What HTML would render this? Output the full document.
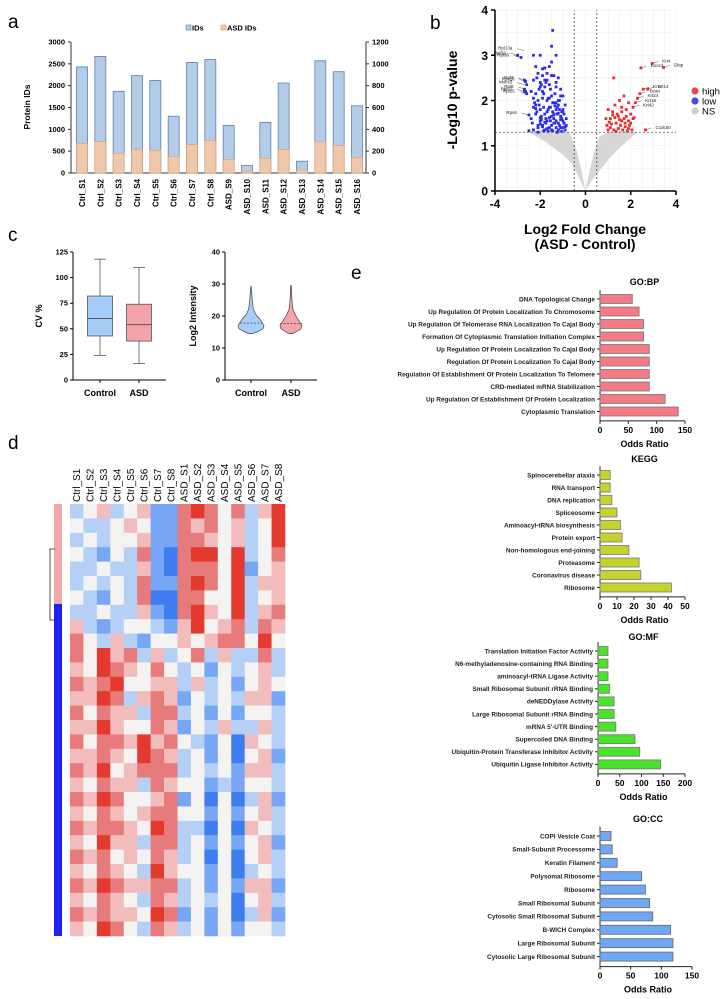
<!DOCTYPE html>
<html><head><meta charset="utf-8">
<style>
body{margin:0;background:#fff;}
svg{display:block;font-family:"Liberation Sans",Arial,sans-serif;}
</style></head>
<body>
<svg id="s" width="724" height="999" viewBox="0 0 724 999" xmlns="http://www.w3.org/2000/svg">
<g font-size="19">
<text x="8" y="28">a</text>
<text x="430" y="29">b</text>
<text x="8" y="241">c</text>
<text x="8" y="449">d</text>
<text x="351" y="279">e</text>
</g>
</svg>
<script>
// ---------- Panel a data ----------
const aCategories=["Ctrl_S1","Ctrl_S2","Ctrl_S3","Ctrl_S4","Ctrl_S5","Ctrl_S6","Ctrl_S7","Ctrl_S8","ASD_S9","ASD_S10","ASD_S11","ASD_S12","ASD_S13","ASD_S14","ASD_S15","ASD_S16"];
const aIDs=[2430,2670,1870,2230,2120,1300,2530,2600,1090,170,1160,2060,270,2570,2320,1540];
const aASD=[272,288,180,216,208,152,260,296,124,16,136,216,28,288,252,144];
const aLeftTicks=[0,500,1000,1500,2000,2500,3000];
const aRightTicks=[0,200,400,600,800,1000,1200];
// ---------- Panel b data ----------
const blueX=[-1.45,-1.5,-1.3,-2.0,-2.3,-1.9,-2.2,-1.6,-1.8,-3.0,-2.85,-2.7,-2.65,-2.6,-2.7,-2.65,-2.6,-2.7,-2.5,-2.1,-1.7,-1.4,-1.2,-2.3,-2.0,-1.8,-1.6,-1.3,-1.1,-2.4,-2.2,-1.9,-1.5,-1.0,-2.1,-1.7,-1.4,-1.2,-0.9,-2.3,-2.0,-1.6,-1.3,-1.0,-2.2,-1.8,-1.5,-1.1,-0.85,-2.4,-2.0,-1.7,-1.4,-1.2,-0.95,-2.1,-1.9,-1.6,-1.3,-1.0,-2.3,-1.8,-1.5,-1.2,-0.9,-2.0,-1.7,-1.4,-1.1,-2.2,-1.9,-1.6,-1.3,-1.0,-2.5,-1.5,-1.8,-2.0,-1.2,-1.4,
-2.15,-1.95,-1.75,-1.55,-1.35,-1.15,-2.05,-1.85,-1.65,-1.45,-1.25,-1.05,-2.25,-2.05,-1.85,-1.65,-1.45,-1.25,-1.05,-0.95,-2.15,-1.95,-1.75,-1.55,-1.35,-1.15,-2.35,-2.1,-1.9,-1.7,-1.5,-1.3,-1.1,-0.9,-2.0,-1.8,-1.6,-1.4,-1.2,-1.0,-2.2,-1.95,-1.75,-1.55,-1.35,-1.15,-0.95,-2.1,-1.85,-1.65,-1.45,-1.25,-1.05,-0.85,-2.3,-1.9,-1.7,-1.5,-1.3,-1.1];
const blueY=[3.55,3.2,3.0,3.0,3.0,2.7,2.75,2.75,2.72,3.0,2.95,2.45,2.42,2.35,2.25,2.2,2.15,2.2,1.68,2.6,2.6,2.55,2.5,2.45,2.4,2.45,2.35,2.3,2.25,2.2,2.15,2.2,2.1,2.1,2.0,2.0,1.95,1.9,1.9,1.85,1.8,1.85,1.8,1.75,1.7,1.7,1.65,1.65,1.6,1.6,1.55,1.55,1.5,1.5,1.5,1.45,1.45,1.4,1.4,1.4,1.35,1.35,1.35,1.35,1.35,1.62,1.75,1.7,1.58,1.9,2.05,2.05,1.95,1.8,1.33,2.85,2.3,2.3,2.0,1.6,
2.5,2.35,2.4,2.25,2.15,2.0,2.25,2.15,2.05,1.95,1.85,1.75,1.95,1.9,1.85,1.8,1.75,1.7,1.6,1.5,1.75,1.65,1.6,1.55,1.5,1.45,1.5,1.4,1.42,1.38,1.45,1.55,1.4,1.42,1.48,1.52,1.62,1.68,1.72,1.55,1.82,1.58,1.5,1.85,1.88,1.8,1.7,1.3,1.33,1.32,1.33,1.3,1.32,1.45,2.05,2.55,2.45,2.55,2.4,2.1];
const redX=[2.95,3.45,2.45,1.25,2.55,2.75,2.4,2.3,2.2,2.1,2.65,1.7,1.5,1.9,1.0,1.2,1.4,1.6,1.8,2.0,1.1,1.3,1.5,1.7,1.9,2.1,0.95,1.15,1.35,1.55,1.75,1.95,1.0,1.25,1.45,1.65,1.85,2.05,1.3,1.6,1.8,2.0,0.9,1.1,1.05,1.45,1.75,2.15,1.35,1.9,1.2,1.6];
const redY=[2.82,2.73,2.72,2.5,2.25,2.25,2.15,2.05,1.95,1.85,1.35,2.1,2.0,1.95,1.8,1.75,1.7,1.75,1.8,1.7,1.6,1.62,1.58,1.6,1.55,1.6,1.45,1.48,1.5,1.45,1.5,1.45,1.35,1.35,1.38,1.35,1.33,1.35,1.9,1.85,1.65,1.5,1.6,1.4,1.52,1.65,1.42,1.62,1.32,1.38,1.68,1.55];
const grayLeftX=[0,-0.3,-0.6,-1.0,-1.4,-1.8,-2.5,-1.9,-1.4,-0.7,-0.4,-0.15,0];
const grayLeftY=[0,0.3,0.6,0.8,0.95,1.1,1.3,1.35,1.35,1.3,0.9,0.4,0];
const grayRightX=[0,0.3,0.7,1.1,1.6,2.3,1.7,1.0,0.6,0.35,0.12,0];
const grayRightY=[0,0.25,0.5,0.75,1.0,1.3,1.32,1.3,1.2,0.8,0.3,0];
const bXTicks=[-4,-2,0,2,4];
const bYTicks=[0,1,2,3,4];
const geneLabels=["Rpl13a","Rpl32","Rpl36","Rpl3","Rps26","Mocs3","Rpl8","Rpl15","Rpl31","Rps6","Krt4","Gfap","Exoc3","Krt1","Krt14","Bcan","Krt24","Krt16","Krt42","Ccdc50"];
const geneX=[-2.7,-3.0,-2.85,-2.65,-2.6,-2.7,-2.65,-2.6,-2.7,-2.5,2.95,3.45,2.45,2.55,2.75,2.4,2.3,2.2,2.1,2.65];
const geneY=[3.1,3.0,2.95,2.45,2.42,2.35,2.25,2.15,2.2,1.68,2.82,2.73,2.72,2.25,2.25,2.15,2.05,1.95,1.85,1.35];
// ---------- Panel c data ----------
const boxGroups=["Control","ASD"];
const boxMin=[24,16],boxQ1=[43,38],boxMed=[60,54],boxQ3=[82,74],boxMax=[118,110];
const cvTicks=[0,25,50,75,100,125];
const violinY=[14.5,15,16,17,18,19,20,21,22,24,26,28,29.5];
const violinCtrl=[1.5,6,12,13,11,9,6,4,2.5,1.5,1,0.6,0];
const violinASD=[1.5,5,10,11,9,7,5,3.5,2,1.2,0.8,0.6,0.3];
const violinMed=[17.8,17.6];
const intTicks=[0,10,20,30,40];
// ---------- Panel d data ----------
const hmCols=["Ctrl_S1","Ctrl_S2","Ctrl_S3","Ctrl_S4","Ctrl_S5","Ctrl_S6","Ctrl_S7","Ctrl_S8","ASD_S1","ASD_S2","ASD_S3","ASD_S4","ASD_S5","ASD_S6","ASD_S7","ASD_S8"];
const hmRows=["2342341156535246","3223431154534236","2323341155434236","3213251056636235","2232241055536134","2323251156536244","3213250055336234","2232241056436245","4212332146345254","5324213343455363","5364524235242252","4365435323132342","5456334424231343","4465245413232441","5354425523131332","4464335413242242","5355464532130432","4454365423130341","5463455523231442","4354425433121332","5465334513030241","4354345533131342","5455436522030432","4364425523131341","5453435423030342","4354326433130232","5465445523131441","4354325423230342","5454436513130241","4365325423131332"];
// ---------- Panel e data ----------
const bpLabels=["DNA Topological Change","Up Regulation Of Protein Localization To Chromosome","Up Regulation Of Telomerase RNA Localization To Cajal Body","Formation Of Cytoplasmic Translation Initiation Complex","Up Regulation Of Protein Localization To Cajal Body","Regulation Of Protein Localization To Cajal Body","Regulation Of Establishment Of Protein Localization To Telomere","CRD-mediated mRNA Stabilization","Up Regulation Of Establishment Of Protein Localization","Cytoplasmic Translation"];
const bpValues=[57,69,77,77,87,87,87,87,115,138];
const bpTicks=[0,50,100,150];
const keggLabels=["Spinocerebellar ataxia","RNA transport","DNA replication","Spliceosome","Aminoacyl-tRNA biosynthesis","Protein export","Non-homologous end-joining","Proteasome","Coronavirus disease","Ribosome"];
const keggValues=[6,6,7,10,12,13,17,23,24,42];
const keggTicks=[0,10,20,30,40,50];
const mfLabels=["Translation Initiation Factor Activity","N6-methyladenosine-containing RNA Binding","aminoacyl-tRNA Ligase Activity","Small Ribosomal Subunit rRNA Binding","deNEDDylase Activity","Large Ribosomal Subunit rRNA Binding","mRNA 5'-UTR Binding","Supercoiled DNA Binding","Ubiquitin-Protein Transferase Inhibitor Activity","Ubiquitin Ligase Inhibitor Activity"];
const mfValues=[23,23,23,27,37,37,41,85,96,144];
const mfTicks=[0,50,100,150,200];
const ccLabels=["COPI Vesicle Coat","Small-Subunit Processome","Keratin Filament","Polysomal Ribosome","Ribosome","Small Ribosomal Subunit","Cytosolic Small Ribosomal Subunit","B-WICH Complex","Large Ribosomal Subunit","Cytosolic Large Ribosomal Subunit"];
const ccValues=[18,20,28,68,74,81,86,115,119,119];
const ccTicks=[0,50,100,150];

const NS="http://www.w3.org/2000/svg";
const svg=document.getElementById('s');
function mk(tag,attrs,parent,txt){const e=document.createElementNS(NS,tag);for(const k in attrs)e.setAttribute(k,attrs[k]);if(txt!==undefined)e.textContent=txt;(parent||svg).appendChild(e);return e;}
function grp(name){const g=mk('g',{});


return g;}

// ===== Panel a =====
(function(){
const g=grp('panel-a-bar-chart');
const x0=71,x1=366,yb=173,yt=42;
const yL=v=>yb-(v/3000)*(yb-yt);
const yR=v=>yb-(v/1200)*(yb-yt);
const step=(357-82)/15;const xc=i=>82+i*step;const bw=11;
mk('line',{x1:x0,y1:yt,x2:x0,y2:yb,stroke:'#333','stroke-width':1},g);
mk('line',{x1:x1,y1:yt,x2:x1,y2:yb,stroke:'#333','stroke-width':1},g);
mk('line',{x1:x0,y1:yb,x2:x1,y2:yb,stroke:'#333','stroke-width':1},g);
aLeftTicks.forEach(t=>{mk('line',{x1:x0-3,y1:yL(t),x2:x0,y2:yL(t),stroke:'#333'},g);
const tx=mk('text',{x:x0-6,y:yL(t)+2.5,'font-size':7.5,'font-weight':'bold','text-anchor':'end'},g,String(t));

});
aRightTicks.forEach(t=>{mk('line',{x1:x1,y1:yR(t),x2:x1+3,y2:yR(t),stroke:'#333'},g);
const tx=mk('text',{x:x1+6,y:yR(t)+2.5,'font-size':7.5,'font-weight':'bold'},g,String(t));

});
aCategories.forEach((c,i)=>{
const b=mk('rect',{x:xc(i)-bw/2,y:yL(aIDs[i]),width:bw,height:yb-yL(aIDs[i]),fill:'#b3cde9',stroke:'#5f7fa8','stroke-width':0.8},g);


const o=mk('rect',{x:xc(i)-bw/2,y:yR(aASD[i]),width:bw,height:yb-yR(aASD[i]),fill:'#efc7ab',stroke:'#e39a6b','stroke-width':0.6},g);


const t=mk('text',{x:xc(i)+3,y:179,'font-size':8,'font-weight':'bold','text-anchor':'end',transform:`rotate(-90 ${xc(i)+3} 179)`},g,c);


});
const yt2=mk('text',{x:30,y:107,'font-size':8.5,'font-weight':'bold','text-anchor':'middle',transform:'rotate(-90 30 107)'},g,'Protein IDs');


const l1=mk('rect',{x:186,y:25,width:5,height:5,fill:'#b3cde9',stroke:'#5f7fa8','stroke-width':0.6},g);


const lt1=mk('text',{x:192,y:30.5,'font-size':7.5,'font-weight':'bold'},g,'IDs');


const l2=mk('rect',{x:221,y:25,width:5,height:5,fill:'#efc7ab',stroke:'#e39a6b','stroke-width':0.6},g);


const lt2=mk('text',{x:227,y:30.5,'font-size':7.5,'font-weight':'bold'},g,'ASD IDs');


})();

// ===== Panel b =====
(function(){
const g=grp('panel-b-volcano-plot');
const X=v=>495+(v+4)*(676-495)/8, Y=v=>191-v*(191-10)/4;
for(let v=-4;v<=4;v+=0.5){mk('line',{x1:X(v),y1:Y(0),x2:X(v),y2:Y(4),stroke:'#ececec','stroke-width':0.6},g);}
for(let v=0;v<=4;v+=0.5){mk('line',{x1:X(-4),y1:Y(v),x2:X(4),y2:Y(v),stroke:'#ececec','stroke-width':0.6},g);}
const pl=(xs,ys)=>xs.map((x,i)=>X(x)+','+Y(ys[i])).join(' ');
const gl=mk('polygon',{points:pl(grayLeftX,grayLeftY),fill:'#d6d6d6'},g);


const gr=mk('polygon',{points:pl(grayRightX,grayRightY),fill:'#d6d6d6'},g);


blueX.forEach((x,i)=>{const c=mk('rect',{x:X(x)-1.4,y:Y(blueY[i])-1.4,width:2.8,height:2.8,fill:'#2a2af0'},g);

});
redX.forEach((x,i)=>{const c=mk('rect',{x:X(x)-1.4,y:Y(redY[i])-1.4,width:2.8,height:2.8,fill:'#f02a2a'},g);

});
[-0.5,0.5].forEach(v=>mk('line',{x1:X(v),y1:Y(0),x2:X(v),y2:Y(4),stroke:'#333','stroke-width':0.7,'stroke-dasharray':'2,2'},g));
mk('line',{x1:X(-4),y1:Y(1.3),x2:X(4),y2:Y(1.3),stroke:'#333','stroke-width':0.7,'stroke-dasharray':'2,2'},g);
mk('line',{x1:X(-4),y1:Y(0),x2:X(-4),y2:Y(4),stroke:'#000','stroke-width':1.5},g);
mk('line',{x1:X(-4),y1:Y(0),x2:X(4),y2:Y(0),stroke:'#000','stroke-width':1.5},g);
bXTicks.forEach(t=>{mk('line',{x1:X(t),y1:Y(0),x2:X(t),y2:Y(0)+4,stroke:'#000','stroke-width':1.5},g);
const tx=mk('text',{x:X(t),y:Y(0)+17,'font-size':12,'font-weight':'bold','text-anchor':'middle'},g,String(t));

});
bYTicks.forEach(t=>{mk('line',{x1:X(-4)-4,y1:Y(t),x2:X(-4),y2:Y(t),stroke:'#000','stroke-width':1.5},g);
const tx=mk('text',{x:X(-4)-7,y:Y(t)+4.5,'font-size':12,'font-weight':'bold','text-anchor':'end'},g,String(t));

});
geneLabels.forEach((n,i)=>{const left=geneX[i]<0;const px=X(geneX[i]),py=Y(geneY[i]);
const off=left?-12:10;
mk('line',{x1:px,y1:py,x2:px+off*0.6,y2:py-2,stroke:'#333','stroke-width':0.4},g);
const t=mk('text',{x:px+off,y:py-1,'font-size':4.5,'text-anchor':left?'end':'start',fill:'#222'},g,n);

});
const yt=mk('text',{x:457,y:100,'font-size':14,'font-weight':'bold','text-anchor':'middle',transform:'rotate(-90 457 100)'},g,'-Log10 p-value');


const xt=mk('text',{x:585,y:234,'font-size':14,'font-weight':'bold','text-anchor':'middle'},g,'Log2 Fold Change');


const xt2=mk('text',{x:585,y:249,'font-size':14,'font-weight':'bold','text-anchor':'middle'},g,'(ASD - Control)');


[['high','#e84848',91],['low','#4848f0',101],['NS','#cccccc',111]].forEach(([n,c,y])=>{
const d=mk('circle',{cx:695,cy:y,r:3.6,fill:c},g);


const t=mk('text',{x:702,y:y+3.5,'font-size':9.5},g,n);

});
})();

// ===== Panel c =====
(function(){
const g=grp('panel-c-cv-boxplot');
const Y=v=>380-v*(380-252)/125;const ax=73,xr=166;const xc=[100,139];const fills=['#a6cdf7','#f4a3a8'];
mk('line',{x1:ax,y1:252,x2:ax,y2:380,stroke:'#000','stroke-width':1},g);
mk('line',{x1:ax,y1:380,x2:xr,y2:380,stroke:'#000','stroke-width':1},g);
cvTicks.forEach(t=>{mk('line',{x1:ax-3,y1:Y(t),x2:ax,y2:Y(t),stroke:'#000'},g);
const tx=mk('text',{x:ax-5,y:Y(t)+2.5,'font-size':7.5,'font-weight':'bold','text-anchor':'end'},g,String(t));

});
boxGroups.forEach((n,i)=>{const x=xc[i];
mk('line',{x1:x,y1:Y(boxMin[i]),x2:x,y2:Y(boxMax[i]),stroke:'#555','stroke-width':0.8},g);
mk('line',{x1:x-6,y1:Y(boxMin[i]),x2:x+6,y2:Y(boxMin[i]),stroke:'#555','stroke-width':0.8},g);
mk('line',{x1:x-6,y1:Y(boxMax[i]),x2:x+6,y2:Y(boxMax[i]),stroke:'#555','stroke-width':0.8},g);
const r=mk('rect',{x:x-12.5,y:Y(boxQ3[i]),width:25,height:Y(boxQ1[i])-Y(boxQ3[i]),fill:fills[i],stroke:'#555','stroke-width':0.8},g);


mk('line',{x1:x-12.5,y1:Y(boxMed[i]),x2:x+12.5,y2:Y(boxMed[i]),stroke:'#444','stroke-width':0.9},g);
mk('line',{x1:x,y1:380,x2:x,y2:383,stroke:'#000'},g);
const t=mk('text',{x:x,y:396,'font-size':9,'font-weight':'bold','text-anchor':'middle'},g,n);

});
const yt=mk('text',{x:42,y:316,'font-size':9,'font-weight':'bold','text-anchor':'middle',transform:'rotate(-90 42 316)'},g,'CV %');



const g2=grp('panel-c-intensity-violin');
const V=v=>380-v*(380-252)/40;const ax2=225,xr2=317;const vc=[251,291];const vf=['#a6cdf7','#f4a3a8'];
mk('line',{x1:ax2,y1:252,x2:ax2,y2:380,stroke:'#000'},g2);
mk('line',{x1:ax2,y1:380,x2:xr2,y2:380,stroke:'#000'},g2);
intTicks.forEach(t=>{mk('line',{x1:ax2-3,y1:V(t),x2:ax2,y2:V(t),stroke:'#000'},g2);
const tx=mk('text',{x:ax2-5,y:V(t)+2.5,'font-size':7.5,'font-weight':'bold','text-anchor':'end'},g2,String(t));

});
[violinCtrl,violinASD].forEach((w,i)=>{const c=vc[i];
let d='M'+(c+w[0])+','+V(violinY[0]);
violinY.forEach((y,j)=>d+=' L'+(c+w[j])+','+V(y));
for(let j=violinY.length-1;j>=0;j--)d+=' L'+(c-w[j])+','+V(violinY[j]);
d+='Z';
const p=mk('path',{d:d,fill:vf[i],stroke:'#444','stroke-width':0.7},g2);


mk('line',{x1:c-11,y1:V(violinMed[i]),x2:c+11,y2:V(violinMed[i]),stroke:'#333','stroke-width':0.7,'stroke-dasharray':'2,1.5'},g2);
mk('line',{x1:c,y1:380,x2:c,y2:383,stroke:'#000'},g2);
const t=mk('text',{x:c,y:396,'font-size':9,'font-weight':'bold','text-anchor':'middle'},g2,boxGroups[i]);

});
const yt3=mk('text',{x:196,y:316,'font-size':9,'font-weight':'bold','text-anchor':'middle',transform:'rotate(-90 196 316)'},g2,'Log2 Intensity');


})();

// ===== Panel d =====
(function(){
const g=grp('panel-d-heatmap');
const pal=['#3d7df0','#76a6f5','#b5d0f7','#f5f2f2','#f2bcbc','#e77a7a','#e4392f'];
const x0=70,x1=285,y0=504,y1=936;const cw=(x1-x0)/hmCols.length,rh=(y1-y0)/hmRows.length;
hmRows.forEach((row,r)=>{for(let c=0;c<hmCols.length;c++){
const cell=mk('rect',{x:x0+c*cw,y:y0+r*rh,width:cw+0.3,height:rh+0.3,fill:pal[+row[c]]},g);

}});
hmCols.forEach((n,c)=>{const x=x0+c*cw+cw/2+3.5;
const t=mk('text',{x:x,y:502,'font-size':10,'text-anchor':'start',transform:`rotate(-90 ${x} 502)`},g,n);

});
const dg=grp('row-dendrogram');
mk('rect',{x:54,y:504,width:8,height:100,fill:'#f0a8a8'},dg);
mk('rect',{x:54,y:604,width:8,height:332,fill:'#2020f5'},dg);
mk('path',{d:'M55,549 L50,549 L50,620 L55,620',fill:'none',stroke:'#222','stroke-width':0.8},dg);
})();

// ===== Panel e =====
function hbar(name,title,labels,values,ticks,ax,axR,titleY,firstY,stepY,color,stroke){
const g=grp(name);
const tmax=ticks[ticks.length-1];const X=v=>ax+v/tmax*(axR-ax);
const yTop=firstY-stepY*0.7,yBot=firstY+stepY*(labels.length-1)+stepY*0.75;
const tt=mk('text',{x:(ax+axR)/2+2,y:titleY,'font-size':9,'font-weight':'bold','text-anchor':'middle'},g,title);


mk('line',{x1:ax,y1:yTop,x2:ax,y2:yBot,stroke:'#222','stroke-width':1},g);
mk('line',{x1:ax,y1:yBot,x2:axR,y2:yBot,stroke:'#222','stroke-width':1},g);
ticks.forEach(t=>{mk('line',{x1:X(t),y1:yBot,x2:X(t),y2:yBot+3,stroke:'#222'},g);
const tx=mk('text',{x:X(t),y:yBot+12,'font-size':8.5,'font-weight':'bold','text-anchor':'middle'},g,String(t));

});
const xt=mk('text',{x:(ax+axR)/2+2,y:yBot+26,'font-size':9,'font-weight':'bold','text-anchor':'middle'},g,'Odds Ratio');


labels.forEach((l,i)=>{const y=firstY+i*stepY;
mk('line',{x1:ax-3,y1:y,x2:ax,y2:y,stroke:'#222'},g);
const b=mk('rect',{x:ax,y:y-4.5,width:X(values[i])-ax,height:9,fill:color,stroke:stroke,'stroke-width':0.8},g);


const t=mk('text',{x:ax-5,y:y+2.3,'font-size':6.4,'font-weight':'bold','text-anchor':'end',fill:'#222'},g,l);

});
}
hbar('panel-e-go-bp','GO:BP',bpLabels,bpValues,bpTicks,600,685,285,299,12.5,'#f27b85','#777');
hbar('panel-e-kegg','KEGG',keggLabels,keggValues,keggTicks,600,685,462,475,12.5,'#c6d22e','#777');
hbar('panel-e-go-mf','GO:MF',mfLabels,mfValues,mfTicks,598,685,640,651,12.6,'#48e32a','#777');
hbar('panel-e-go-cc','GO:CC',ccLabels,ccValues,ccTicks,600,692,822,836,13.4,'#6ea8f5','#666');
</script>
</body></html>
